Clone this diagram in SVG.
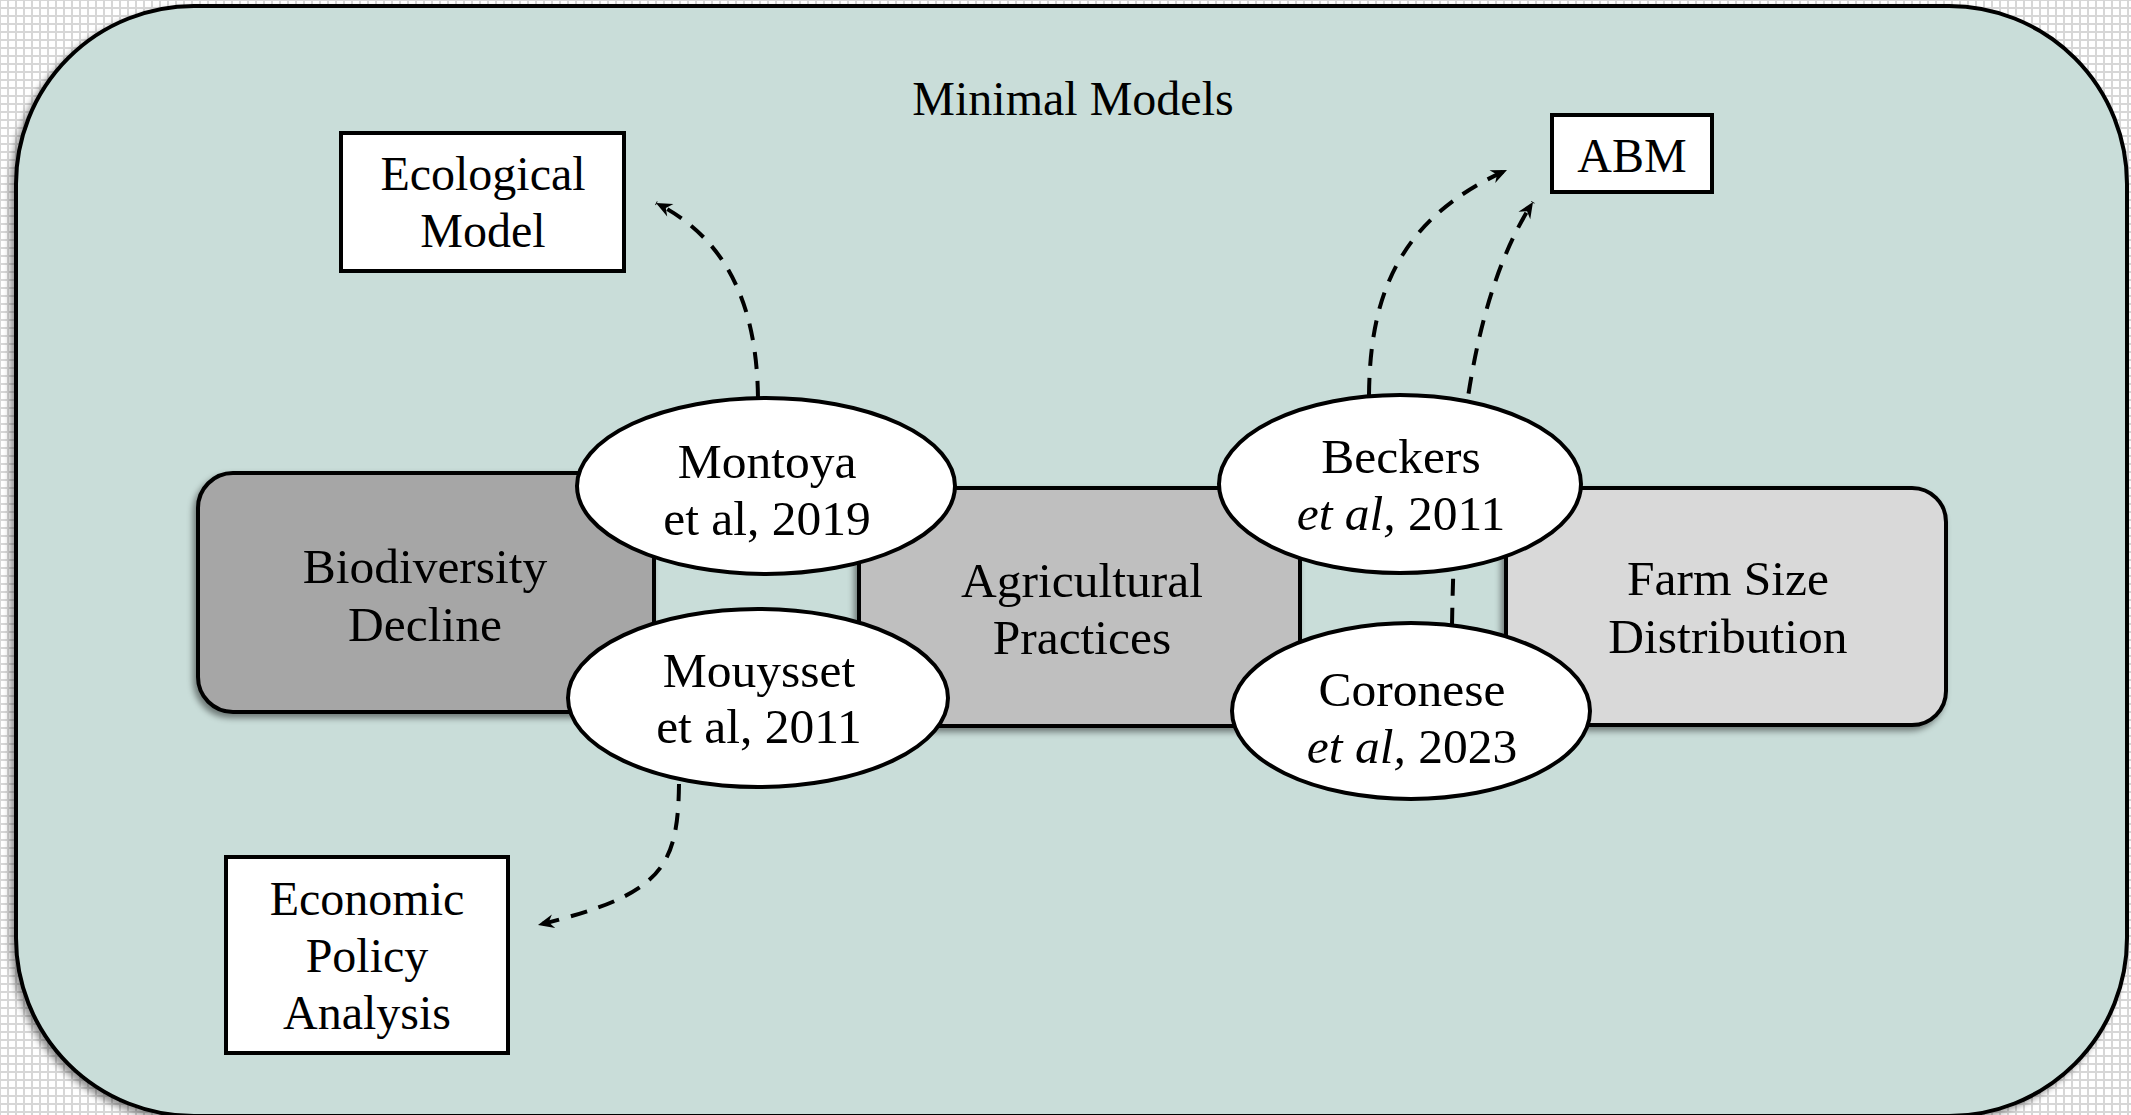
<svg xmlns="http://www.w3.org/2000/svg" width="2131" height="1115" viewBox="0 0 2131 1115">
  <style>
    text { font-family: "Liberation Serif", "Times New Roman", serif; font-size: 48px; fill: #000; }
    .c { text-anchor: middle; }
    .w { font-size: 49.5px; }
    .box { fill: #ffffff; stroke: #000; stroke-width: 4; }
    .block { stroke: #000; stroke-width: 4; filter: url(#shadow); }
    .ref { fill: #ffffff; stroke: #000; stroke-width: 4; }
    .link { fill: none; stroke: #000; stroke-width: 4; stroke-dasharray: 17 12; marker-end: url(#arrow); }
  </style>
  <defs>
    <pattern id="grid" width="8" height="8" patternUnits="userSpaceOnUse">
      <rect width="8" height="8" fill="#d7d7d7"/>
      <rect x="1" y="1" width="6" height="6" fill="#ffffff"/>
    </pattern>
    <filter id="shadow" x="-10%" y="-10%" width="120%" height="130%">
      <feDropShadow dx="-3" dy="4" stdDeviation="3" flood-color="#000" flood-opacity="0.45"/>
    </filter>
    <filter id="frameShadow" x="-5%" y="-5%" width="110%" height="110%">
      <feDropShadow dx="-4" dy="4" stdDeviation="3" flood-color="#000" flood-opacity="0.4"/>
    </filter>
    <marker id="arrow" markerUnits="userSpaceOnUse" markerWidth="24" markerHeight="24" viewBox="-20 -12 24 24" refX="0" refY="0" orient="auto">
      <path d="M0,0 L-16,-7 L-11,0 L-16,7 Z" fill="#000"/>
    </marker>
  </defs>

  <!-- page backdrop -->
  <rect x="0" y="0" width="2131" height="1115" fill="url(#grid)"/>

  <!-- outer frame -->
  <g id="frame">
    <rect x="16" y="6" width="2111" height="1110" rx="178" ry="178" fill="#c9ddd9" stroke="#000" stroke-width="4" filter="url(#frameShadow)"/>
    <text class="c" x="1073" y="115">Minimal Models</text>
  </g>

  <!-- model boxes -->
  <g id="ecological-model">
    <rect class="box" x="341" y="133" width="283" height="138"/>
    <text class="c" x="483" y="190">Ecological</text>
    <text class="c" x="483" y="247">Model</text>
  </g>
  <g id="abm">
    <rect class="box" x="1552" y="115" width="160" height="77"/>
    <text class="c" x="1632" y="172">ABM</text>
  </g>
  <g id="economic-policy">
    <rect class="box" x="226" y="857" width="282" height="196"/>
    <text class="c" x="367" y="915">Economic</text>
    <text class="c" x="367" y="972">Policy</text>
    <text class="c" x="367" y="1029">Analysis</text>
  </g>

  <!-- themes -->
  <g id="biodiversity">
    <rect class="block" x="198" y="473" width="456" height="239" rx="35" ry="35" fill="#a6a6a6"/>
    <text class="c w" x="425" y="583">Biodiversity</text>
    <text class="c w" x="425" y="641">Decline</text>
  </g>
  <g id="agriculture">
    <rect class="block" x="859" y="488" width="441" height="238" rx="35" ry="35" fill="#bfbfbf"/>
    <text class="c w" x="1082" y="597">Agricultural</text>
    <text class="c w" x="1082" y="654">Practices</text>
  </g>
  <g id="farm-size">
    <rect class="block" x="1506" y="488" width="440" height="237" rx="34" ry="34" fill="#d9d9d9"/>
    <text class="c w" x="1728" y="595">Farm Size</text>
    <text class="c w" x="1728" y="653">Distribution</text>
  </g>

  <!-- dashed links -->
  <g id="connectors">
    <path class="link" d="M758 398 C757 310, 730 240, 656 203"/>
    <path class="link" d="M679 784 C678 870, 660 895, 538 925"/>
    <path class="link" d="M1369 395 C1370 300, 1395 220, 1507 170"/>
    <path class="link" d="M1452 625 C1455 450, 1470 300, 1533 202"/>
  </g>

  <!-- references -->
  <g id="montoya">
    <ellipse class="ref" cx="766" cy="486" rx="189" ry="88"/>
    <text class="c w" x="767" y="478">Montoya</text>
    <text class="c w" x="767" y="535">et al, 2019</text>
  </g>
  <g id="mouysset">
    <ellipse class="ref" cx="758" cy="698" rx="190" ry="89"/>
    <text class="c w" x="759" y="687">Mouysset</text>
    <text class="c w" x="759" y="743">et al, 2011</text>
  </g>
  <g id="beckers">
    <ellipse class="ref" cx="1400" cy="484" rx="181" ry="89"/>
    <text class="c w" x="1401" y="473">Beckers</text>
    <text class="c w" x="1401" y="530"><tspan font-style="italic">et al,</tspan> 2011</text>
  </g>
  <g id="coronese">
    <ellipse class="ref" cx="1411" cy="711" rx="179" ry="88"/>
    <text class="c w" x="1412" y="706">Coronese</text>
    <text class="c w" x="1412" y="763"><tspan font-style="italic">et al,</tspan> 2023</text>
  </g>
</svg>
